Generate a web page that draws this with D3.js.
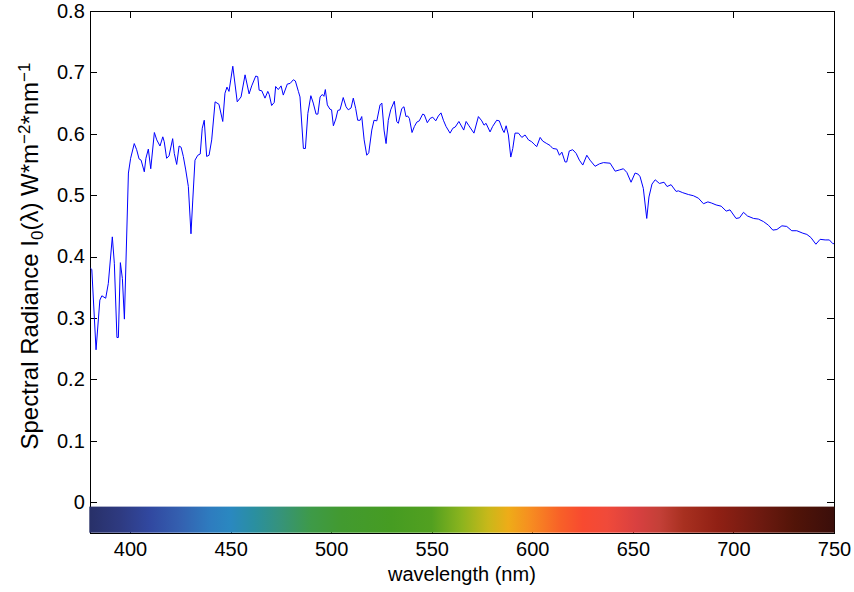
<!DOCTYPE html>
<html>
<head>
<meta charset="utf-8">
<script src="https://cdn.jsdelivr.net/npm/d3@7"></script>
<style>
  body { margin: 0; background: #fff; }
  text { font-family: "Liberation Sans", Arial, Helvetica, sans-serif; }
</style>
</head>
<body>
<div id="chart"></div>
<script>
// Solar spectral radiance (nm, W m^-2 nm^-1)
var wavelength = [380.3, 381, 383.1, 385, 386, 387.9, 389.2, 391.2, 392.2, 393.5, 394.2, 395.2, 396.2, 397.2,
  399.2, 400.3, 402.1, 403.3, 404.5, 405.5, 407.1, 407.9, 409.1, 410.3, 412.1, 413.3, 414.9, 416.3, 417,
  418.2, 419.4, 421.2, 422, 423.2, 424.4, 425.4, 426.5, 427.7, 429, 430.3, 431.2, 432.3, 433.7, 434.9,
  435.9, 436.9, 438.1, 439.3, 440.6, 442.3, 444.2, 446.1, 447.2, 448.2, 449.2, 451.1, 453.3, 455.2,
  457.2, 459.2, 460.5, 462.5, 463.5, 464.2, 465.5, 467.1, 468.5, 469.2, 470.4, 471.7, 472.4, 473.7,
  475.1, 476.2, 478.2, 479.6, 481.2, 482.2, 483.7, 484.5, 486.2, 487.2, 488.4, 489.9, 491.1, 492.5,
  493.4, 494.5, 495.6, 496.4, 497.1, 498.1, 499.4, 500.2, 501.1, 502.3, 503.3, 504.4, 506, 507.4,
  508.5, 509.9, 511, 512.2, 513.2, 514.4, 515.2, 516.4, 517.7, 518.7, 520.2, 521.3, 522.7, 524.3,
  525.2, 526.3, 527.3, 528.4, 529.6, 531.4, 532.6, 533.4, 535.1, 536.2, 537.2, 538, 538.9, 540.2,
  541.4, 542.6, 543.8, 545.5, 546.3, 547.8, 549.2, 550.5, 552, 553.3, 554.6, 555.8, 557.1, 559.1,
  560.5, 561.7, 563.5, 565.9, 567.1, 568.5, 571, 573.2, 574.9, 576, 577, 579, 580.3, 582.3, 583.6,
  585.3, 586, 587, 588.1, 589.3, 590.3, 591.4, 593.1, 594.8, 596.4, 598.1, 599.7, 600.9, 602.2,
  603.9, 605.2, 607.2, 608.8, 610.2, 612.2, 613.5, 614.7, 616.3, 617.1, 618.4, 620.1, 621.8, 623.4,
  625.1, 627.1, 628.7, 631.2, 633.4, 635.4, 638.7, 641.2, 643.3, 645.3, 647, 649.1, 651.1, 652.7,
  653.6, 655.2, 656.9, 658, 659.5, 661.1, 663.2, 665.5, 667, 669, 671.5, 672.6, 674.8, 677.6, 680.1,
  682.6, 685.1, 687.3, 689.2, 691.4, 693.9, 696.4, 698.3, 701.3, 703, 705, 707, 710, 712.4, 714.9,
  717.4, 719.6, 721.6, 724.1, 726.5, 729, 731.5, 734.5, 736.5, 738.5, 741, 743.1, 745.6, 747.7,
  749.4, 750];

var radiance = [0.381, 0.379, 0.248, 0.329, 0.336, 0.332, 0.356, 0.432, 0.389, 0.268, 0.268, 0.390, 0.364, 0.298,
  0.536, 0.560, 0.584, 0.574, 0.559, 0.557, 0.538, 0.560, 0.575, 0.543, 0.602, 0.590, 0.580, 0.595, 0.587,
  0.560, 0.564, 0.592, 0.568, 0.550, 0.580, 0.578, 0.563, 0.541, 0.514, 0.437, 0.492, 0.557, 0.565, 0.567,
  0.609, 0.622, 0.563, 0.565, 0.590, 0.652, 0.648, 0.620, 0.666, 0.676, 0.669, 0.710, 0.652, 0.660,
  0.696, 0.665, 0.678, 0.694, 0.693, 0.671, 0.670, 0.658, 0.669, 0.664, 0.646, 0.651, 0.677, 0.672,
  0.678, 0.663, 0.681, 0.682, 0.688, 0.686, 0.669, 0.660, 0.576, 0.576, 0.633, 0.662, 0.650, 0.632,
  0.632, 0.660, 0.664, 0.661, 0.672, 0.647, 0.640, 0.639, 0.613, 0.624, 0.638, 0.639, 0.659, 0.644,
  0.639, 0.642, 0.658, 0.641, 0.622, 0.622, 0.628, 0.590, 0.565, 0.569, 0.606, 0.622, 0.621, 0.647,
  0.650, 0.606, 0.584, 0.622, 0.639, 0.653, 0.620, 0.617, 0.641, 0.644, 0.628, 0.629, 0.625, 0.602,
  0.612, 0.619, 0.621, 0.632, 0.631, 0.618, 0.625, 0.627, 0.621, 0.629, 0.634, 0.622, 0.612, 0.601,
  0.609, 0.611, 0.620, 0.606, 0.620, 0.613, 0.601, 0.628, 0.621, 0.614, 0.617, 0.603, 0.612, 0.622, 0.621,
  0.606, 0.602, 0.613, 0.598, 0.562, 0.576, 0.601, 0.601, 0.594, 0.598, 0.590, 0.587, 0.583, 0.579,
  0.594, 0.588, 0.584, 0.581, 0.576, 0.575, 0.565, 0.570, 0.554, 0.554, 0.572, 0.574, 0.568, 0.557,
  0.549, 0.565, 0.557, 0.547, 0.551, 0.553, 0.552, 0.539, 0.541, 0.543, 0.537, 0.521, 0.536, 0.534,
  0.530, 0.511, 0.462, 0.497, 0.518, 0.525, 0.519, 0.521, 0.514, 0.517, 0.506, 0.507, 0.504, 0.501, 0.499,
  0.495, 0.486, 0.489, 0.487, 0.484, 0.482, 0.474, 0.476, 0.462, 0.463, 0.472, 0.466, 0.462, 0.461, 0.457,
  0.451, 0.443, 0.444, 0.450, 0.449, 0.442, 0.442, 0.438, 0.436, 0.431, 0.420, 0.428, 0.427, 0.427,
  0.421, 0.421];

var xTicks = [400, 450, 500, 550, 600, 650, 700, 750];
var yTicks = [0, 0.1, 0.2, 0.3, 0.4, 0.5, 0.6, 0.7, 0.8];

// colour strip under the spectrum
var stripWavelength = [380, 395, 410, 425, 440, 450, 462, 475, 490, 505, 530, 550, 565, 578, 588, 598,
  614, 625, 637, 652, 663, 675, 692, 713, 730, 750];
var stripColor = ["#283068", "#2e3a80", "#3148a0", "#3460b0", "#2e7cbf", "#2a88c0", "#2a8fa0", "#36937a",
  "#3e9a48", "#429a30", "#469c22", "#52a020", "#8cb41e", "#c8b81a", "#eeac18", "#f69020",
  "#f86028", "#f84a30", "#f04a3a", "#d84040", "#c44038", "#a83020", "#902014", "#6e1a10", "#521408", "#3a0e0a"];

var W = 854, H = 592;

var svg = d3.select("#chart")
  .append("svg")
    .attr("width", W)
    .attr("height", H);

var x = d3.scaleLinear()
  .domain([380, 750])
  .range([89.8, 834]);

var y = d3.scaleLinear()
  .domain([-0.05, 0.8])
  .range([532.7, 11]);

var fontSize = 20;

// axes box, ticks pointing inward
svg.append("g")
  .attr("transform", "translate(0," + y(-0.05) + ")")
  .call(d3.axisBottom(x).tickValues(xTicks).tickSizeInner(-7).tickSizeOuter(0).tickPadding(9.5));

svg.append("g")
  .attr("transform", "translate(0," + y(0.8) + ")")
  .call(d3.axisTop(x).tickValues(xTicks).tickSizeInner(-7).tickSizeOuter(0).tickFormat(""));

svg.append("g")
  .attr("transform", "translate(" + x(380) + ",0)")
  .call(d3.axisLeft(y).tickValues(yTicks).tickSizeInner(-7).tickSizeOuter(0).tickPadding(5)
    .tickFormat(function(d) { return d === 0 ? "0" : d3.format(".1f")(d); }));

svg.append("g")
  .attr("transform", "translate(" + x(750) + ",0)")
  .call(d3.axisRight(y).tickValues(yTicks).tickSizeInner(-7).tickSizeOuter(0).tickFormat(""));

svg.selectAll(".domain, .tick line")
  .attr("stroke", "#000")
  .attr("shape-rendering", "crispEdges");

svg.selectAll(".tick text")
  .attr("fill", "#000")
  .style("font-size", fontSize + "px")
  .style("font-family", "'Liberation Sans', Arial, Helvetica, sans-serif");

// spectrum line
var line = d3.line()
  .x(function(d, i) { return x(wavelength[i]); })
  .y(function(d) { return y(d); });

svg.append("path")
  .datum(radiance)
  .attr("fill", "none")
  .attr("stroke", "#0000ff")
  .attr("stroke-width", 1)
  .attr("d", line);

// colour strip drawn over the bottom of the box
var grad = svg.append("defs").append("linearGradient")
  .attr("id", "spectrum")
  .attr("x1", "0%").attr("x2", "100%")
  .attr("y1", "0%").attr("y2", "0%");

grad.selectAll("stop")
  .data(stripWavelength)
  .enter()
  .append("stop")
    .attr("offset", function(d) { return ((d - 380) / 370 * 100) + "%"; })
    .attr("stop-color", function(d, i) { return stripColor[i]; });

svg.append("rect")
  .attr("x", x(380) - 0.5)
  .attr("y", y(-0.0075))
  .attr("width", x(750) - x(380) + 1)
  .attr("height", y(-0.05) - y(-0.0075))
  .attr("fill", "url(#spectrum)");

// axis labels
svg.append("text")
  .attr("x", (x(380) + x(750)) / 2)
  .attr("y", 581)
  .attr("text-anchor", "middle")
  .style("font-size", fontSize + "px")
  .text("wavelength (nm)");

var yl = svg.append("text")
  .attr("transform", "translate(38,256) rotate(-90)")
  .attr("text-anchor", "middle")
  .style("font-size", "24px");

yl.append("tspan").text("Spectral Radiance I");
yl.append("tspan").attr("baseline-shift", "-30%").style("font-size", "17px").text("0");
yl.append("tspan").text("(\u03bb) W*m");
yl.append("tspan").attr("baseline-shift", "45%").style("font-size", "17px").text("\u22122");
yl.append("tspan").text("*nm");
yl.append("tspan").attr("baseline-shift", "45%").style("font-size", "17px").text("\u22121");
</script>
</body>
</html>
